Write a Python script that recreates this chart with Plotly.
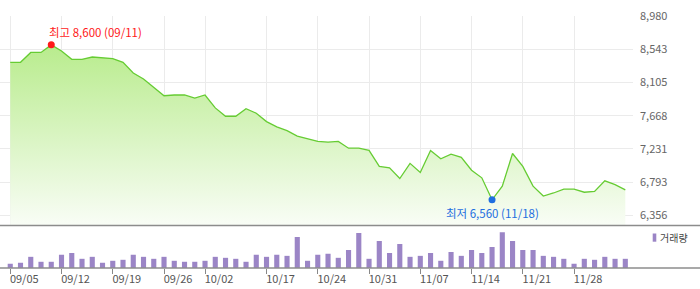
import numpy as np
import plotly.graph_objects as go

# ---------------- data ----------------
prices = [8370, 8370, 8500, 8500, 8600, 8520, 8410, 8410, 8440, 8430,
          8420, 8370, 8230, 8150, 8040, 7930, 7940, 7940, 7900, 7940,
          7770, 7660, 7660, 7760, 7700, 7590, 7520, 7470, 7400, 7370,
          7330, 7320, 7330, 7240, 7240, 7210, 7000, 6980, 6840, 7040,
          6920, 7210, 7100, 7160, 7120, 6950, 6850, 6560, 6740, 7170,
          7000, 6740, 6610, 6650, 6700, 6700, 6660, 6670, 6810, 6760,
          6690]

volumes = [43, 53, 113, 63, 63, 133, 153, 93, 113, 53,
           73, 83, 133, 113, 93, 113, 73, 63, 63, 73,
           113, 103, 93, 63, 133, 113, 133, 123, 313, 73,
           133, 143, 103, 183, 353, 93, 273, 153, 243, 113,
           123, 153, 73, 163, 123, 183, 153, 213, 363, 273,
           183, 183, 123, 113, 93, 43, 93, 83, 113, 93,
           93]
volumes = [v * 1000 for v in volumes]

tick_idx = [0, 5, 10, 15, 19, 25, 30, 35, 40, 45, 50, 55]
tick_labels = ["09/05", "09/12", "09/19", "09/26", "10/02", "10/17",
               "10/24", "10/31", "11/07", "11/14", "11/21", "11/28"]

price_ticks = [6356, 6793, 7231, 7668, 8105, 8543, 8980]
high_date = "09/11"
low_date = "11/18"

# ---------------- styles ----------------
FONT = "Noto Sans CJK KR, Noto Sans, sans-serif"
LINE_GREEN = "#66cc33"
PURPLE = "#9b85c6"
RED = "#ff1a1a"
BLUE = "#1f6fe0"
GRID = "#ebebeb"

W, H = 700, 289
ML, MR, MT, MB = 0, 67, 16, 21
plot_w = W - ML - MR
plot_h = H - MT - MB

def py(pix):  # pixel y -> paper y
    return (H - MB - pix) / plot_h

def px(pix):  # pixel x -> paper x
    return (pix - ML) / plot_w

x = list(range(len(prices)))
p = np.array(prices)
imax, imin = int(np.argmax(p)), int(np.argmin(p))

y_lo, y_hi = 6222, 8980

fig = go.Figure()

fig.add_trace(go.Scatter(
    x=x, y=prices, mode="lines",
    line=dict(color=LINE_GREEN, width=1.3),
    fill="tozeroy",
    fillgradient=dict(type="vertical", start=y_lo, stop=y_hi,
                      colorscale=[[0, "#f9fdf6"], [1, "#aee97c"]]),
    xaxis="x", yaxis="y", hoverinfo="skip"))

fig.add_trace(go.Scatter(
    x=[x[imax]], y=[prices[imax]], mode="markers",
    marker=dict(color=RED, size=7), xaxis="x", yaxis="y"))
fig.add_trace(go.Scatter(
    x=[x[imin]], y=[prices[imin]], mode="markers",
    marker=dict(color=BLUE, size=7), xaxis="x", yaxis="y"))

fig.add_trace(go.Bar(
    x=x, y=volumes, width=0.5, marker=dict(color=PURPLE, line=dict(width=0)),
    xaxis="x2", yaxis="y2"))

x_range = [-1.0, 60.75]

fig.update_layout(
    width=W, height=H,
    margin=dict(l=ML, r=MR, t=MT, b=MB, pad=0),
    paper_bgcolor="white", plot_bgcolor="white",
    showlegend=False,
    font=dict(family=FONT, size=11, color="#555"),
    xaxis=dict(domain=[0, 1], range=x_range, anchor="y",
               tickvals=tick_idx, showticklabels=False, ticks="",
               showgrid=True, gridcolor=GRID, gridwidth=1,
               zeroline=False, showline=False),
    yaxis=dict(domain=[py(225.5), 1], range=[y_lo, y_hi], side="right",
               tickvals=price_ticks, tickformat=",d",
               showgrid=True, gridcolor=GRID, gridwidth=1,
               ticks="", ticklabelstandoff=6,
               tickfont=dict(size=11, color="#666", family=FONT),
               zeroline=False, showline=False),
    xaxis2=dict(domain=[0, 1], range=x_range, anchor="y2",
                tickvals=tick_idx, ticktext=tick_labels,
                ticks="outside", ticklen=5, tickcolor="#888", tickwidth=1,
                ticklabelshift=14, ticklabelstandoff=-4,
                tickfont=dict(size=11, color="#555", family=FONT),
                showgrid=False, zeroline=False, showline=False),
    yaxis2=dict(domain=[0, py(226.5)], range=[0, 420000], visible=False),
)

# frame lines spanning full width
for yy in (py(225.5), 0):
    fig.add_shape(type="line", xref="paper", yref="paper",
                  x0=-0.01, x1=W / plot_w + 0.01, y0=yy, y1=yy,
                  line=dict(color="#8c8c8c", width=1.5), layer="above")

# high / low annotations
fig.add_annotation(x=x[imax], y=prices[imax], xref="x", yref="y",
                   text=f"최고 {prices[imax]:,} ({high_date})",
                   showarrow=False, xanchor="left", yanchor="middle",
                   xshift=-4, yshift=13,
                   font=dict(family=FONT, size=11.5, color=RED))
fig.add_annotation(x=x[imin], y=prices[imin], xref="x", yref="y",
                   text=f"최저 {prices[imin]:,} ({low_date})",
                   showarrow=False, xanchor="center", yanchor="middle",
                   yshift=-13,
                   font=dict(family=FONT, size=11.5, color=BLUE))

# volume legend
fig.add_shape(type="rect", xref="paper", yref="paper",
              x0=px(652.7), x1=px(656.3), y0=py(241.7), y1=py(233.5),
              fillcolor=PURPLE, line=dict(width=0))
fig.add_annotation(x=px(657.5), y=py(237.8), xref="paper", yref="paper",
                   text="거래량", showarrow=False, xanchor="left",
                   yanchor="middle",
                   font=dict(family=FONT, size=10, color="#444"))

fig.write_html("out.html")
